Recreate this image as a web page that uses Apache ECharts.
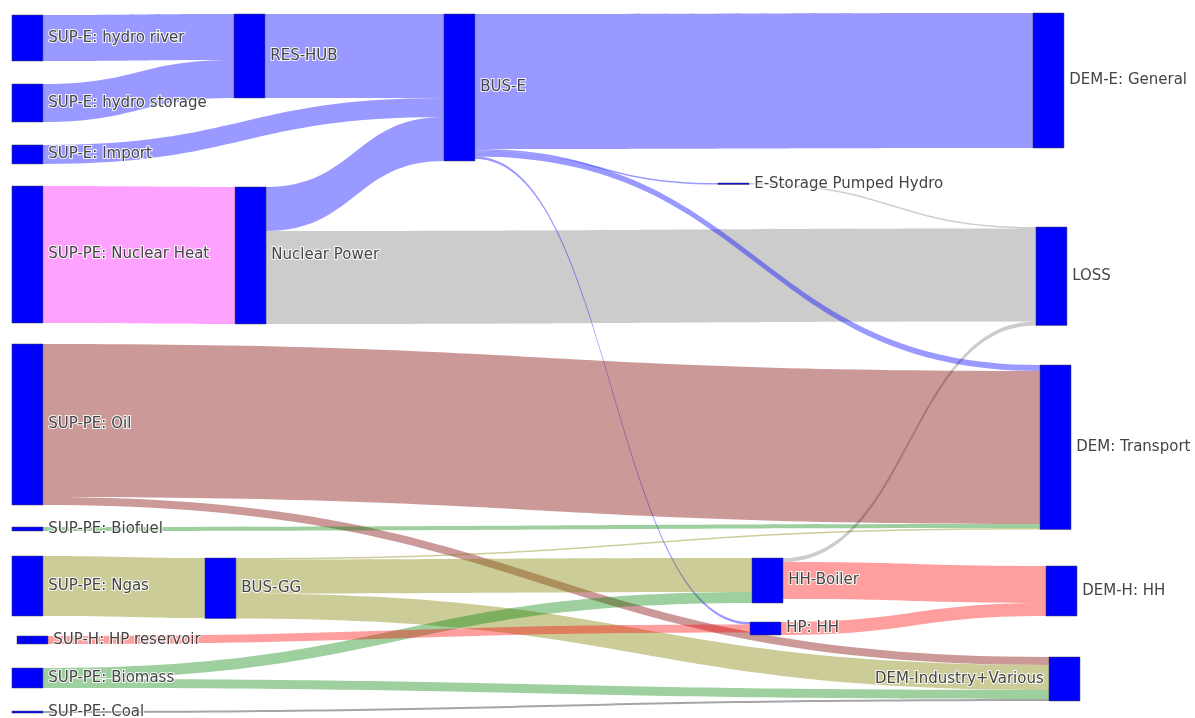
<!DOCTYPE html>
<html><head><meta charset="utf-8">
<script src="https://cdn.jsdelivr.net/npm/echarts@6/dist/echarts.min.js"></script>
<style>html,body{margin:0;padding:0;background:#fff}#c{width:1195px;height:718px}</style>
</head><body><div id="c"></div>
<script>
// ---- nodes ----
const nodeNames = [
  'SUP-E: hydro river', 'SUP-E: hydro storage', 'SUP-E: Import', 'SUP-PE: Nuclear Heat',
  'SUP-PE: Oil', 'SUP-PE: Biofuel', 'SUP-PE: Ngas', 'SUP-H: HP reservoir',
  'SUP-PE: Biomass', 'SUP-PE: Coal',
  'RES-HUB', 'E-Storage Pumped Hydro', 'Nuclear Power', 'DEM: Transport', 'LOSS', 'BUS-GG',
  'DEM-E: General', 'BUS-E', 'HH-Boiler', 'HP: HH', 'DEM-Industry+Various', 'DEM-H: HH'
];
// arrangement (fractions of the drawing area, like plotly node.x / node.y)
const nodeX = [0.0100,0.0100,0.0100,0.0100,0.0100,0.0100,0.0100,0.0142,0.0100,0.0100,
               0.1958,0.6008,0.1967,0.8703,0.8669,0.1715,0.8644,0.3715,0.6293,0.6276,0.8778,0.8753];
const nodeY = [0.0209,0.1170,0.2019,0.2591,0.4791,0.7340,0.7744,0.8858,0.9304,0.9903,
               0.0195,0.2549,0.2604,0.5084,0.3162,0.7772,0.0181,0.0195,0.7772,0.8663,0.9150,0.7883];
// ordering group used by the layout to stack link ends
const nodeGroup = [0,0,0,0,0,0,0,0,0,0, 1,1,1,1,1,1, 2,2,2,2,2,2];
const leftLabels = ['DEM-Industry+Various'];

// ---- links ----
const linkSource = [
  'SUP-E: hydro river','SUP-E: hydro storage','RES-HUB','SUP-E: Import',
  'SUP-PE: Nuclear Heat','Nuclear Power','Nuclear Power',
  'BUS-E','BUS-E','BUS-E','BUS-E','E-Storage Pumped Hydro',
  'SUP-PE: Oil','SUP-PE: Oil','SUP-PE: Biofuel',
  'SUP-PE: Ngas','BUS-GG','BUS-GG','BUS-GG',
  'SUP-PE: Biomass','SUP-PE: Biomass',
  'HH-Boiler','HH-Boiler','SUP-H: HP reservoir','HP: HH','SUP-PE: Coal'
];
const linkTarget = [
  'RES-HUB','RES-HUB','BUS-E','BUS-E',
  'Nuclear Power','BUS-E','LOSS',
  'DEM-E: General','E-Storage Pumped Hydro','DEM: Transport','HP: HH','LOSS',
  'DEM: Transport','DEM-Industry+Various','DEM: Transport',
  'BUS-GG','DEM: Transport','HH-Boiler','DEM-Industry+Various',
  'HH-Boiler','DEM-Industry+Various',
  'LOSS','DEM-H: HH','HP: HH','DEM-H: HH','DEM-Industry+Various'
];
const linkValue = [
  46, 38, 84, 19,
  137, 44, 93,
  135, 1.5, 6, 2.5, 1.4,
  153, 8, 4,
  60, 1.5, 34, 25,
  11, 9,
  4, 37, 8, 13, 2
];
const linkKind = [
  'elec','elec','elec','elec',
  'nuc','elec','loss',
  'elec','elec','elec','elec','loss',
  'oil','oil','bio',
  'gas','gas','gas','gas',
  'bio','bio',
  'loss','heat','heat','heat','coal'
];
const kindColor = {
  elec: 'rgba(0,0,255,0.4)', nuc: 'rgba(255,0,255,0.37)', loss: 'rgba(0,0,0,0.2)',
  oil: 'rgba(128,0,0,0.4)', gas: 'rgba(128,128,0,0.4)', bio: 'rgba(0,128,0,0.38)',
  heat: 'rgba(255,0,0,0.38)', coal: 'rgba(0,0,0,0.35)'
};

const chart = echarts.init(document.getElementById('c'), null, {renderer: 'canvas'});
const W = chart.getWidth(), H = chart.getHeight();

// node values (max of in / out) to size the gap so 1 unit = 1 px of the drawing area
const inSum = {}, outSum = {};
linkValue.forEach((v, i) => {
  outSum[linkSource[i]] = (outSum[linkSource[i]] || 0) + v;
  inSum[linkTarget[i]] = (inSum[linkTarget[i]] || 0) + v;
});
let col0Sum = 0, col0N = 0;
nodeNames.forEach((n, i) => {
  if (nodeGroup[i] === 0) { col0Sum += Math.max(inSum[n] || 0, outSum[n] || 0); col0N++; }
});
const gap = (H - col0Sum) / (col0N - 1) - 1e-6;

const nodes = nodeNames.map((n, i) => ({
  name: n,
  depth: nodeGroup[i],
  localX: nodeX[i],
  localY: nodeY[i],
  label: leftLabels.includes(n) ? {position: 'left'} : {position: 'right'}
}));
const links = linkValue.map((v, i) => ({
  source: linkSource[i], target: linkTarget[i], value: v,
  lineStyle: {color: kindColor[linkKind[i]], opacity: 1}
}));

chart.setOption({
  backgroundColor: '#fff',
  animation: false,
  series: [{
    type: 'sankey',
    left: 0, top: 0, width: W, height: H,
    nodeWidth: 31,
    nodeGap: gap,
    nodeAlign: 'left',
    layoutIterations: 0,
    draggable: false,
    emphasis: {disabled: true},
    itemStyle: {color: '#0000ff', borderColor: '#444', borderWidth: 0.5},
    label: {
      color: '#444', fontFamily: 'DejaVu Sans', fontSize: 15, distance: 5,
      textBorderColor: 'rgba(255,255,255,0.9)', textBorderWidth: 2
    },
    lineStyle: {curveness: 0.5},
    data: nodes,
    links: links
  }]
});
</script>
</body></html>
